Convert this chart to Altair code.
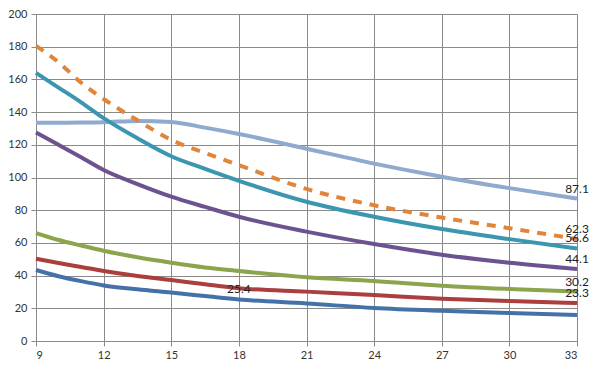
import altair as alt
import pandas as pd

x_vals = [9, 10, 11, 12, 13.5, 15, 16.5, 18, 21, 24, 27, 30, 33]

light_blue = [133.5, 133.5, 133.6, 133.8, 134.6, 134.0, 130.5, 126.6, 117.6, 108.5, 100.5, 93.5, 87.1]
orange = [180.5, 170.5, 158.0, 148.0, 135.0, 123.0, 115.0, 107.6, 93.0, 83.0, 75.5, 69.0, 62.3]
teal = [164.0, 155.0, 146.0, 136.3, 124.0, 113.0, 105.3, 98.0, 85.2, 76.0, 68.5, 62.3, 56.6]
purple = [127.5, 120.0, 112.4, 104.6, 96.0, 88.3, 82.0, 76.0, 66.9, 59.3, 52.8, 47.9, 44.1]
green = [66.0, 61.8, 58.4, 55.2, 51.2, 47.9, 45.0, 42.8, 39.0, 36.7, 33.8, 31.8, 30.2]
red = [50.3, 47.7, 45.3, 42.8, 39.8, 37.3, 34.7, 32.3, 30.2, 28.1, 25.9, 24.4, 23.3]
blue = [43.4, 39.6, 36.6, 34.0, 31.6, 29.6, 27.5, 25.4, 23.0, 20.2, 18.5, 17.2, 15.9]

series_names = ["light_blue", "blue", "red", "green", "purple", "teal", "orange"]
series_values = [light_blue, blue, red, green, purple, teal, orange]
series_colors = ["#8FA9CF", "#4571A9", "#AA3F3D", "#8CA54C", "#6C5390", "#3B97B0", "#E1853A"]

label_series = ["light_blue", "orange", "teal", "purple", "green", "red", "blue"]
label_x = [33, 33, 33, 33, 33, 33, 18]
label_y = [87.1, 62.3, 56.6, 44.1, 30.2, 23.3, 25.4]
label_text = ["87.1", "62.3", "56.6", "44.1", "30.2", "23.3", "25.4"]

x_ticks = list(range(9, 34, 3))
y_ticks = list(range(0, 201, 20))

rows = []
for name, vals in zip(series_names, series_values):
    for i, (xv, yv) in enumerate(zip(x_vals, vals)):
        rows.append({"series": name, "x": xv, "y": yv, "order": i})
df = pd.DataFrame(rows)

labels_df = pd.DataFrame({"series": label_series, "x": label_x, "y": label_y, "text": label_text})

FONT = "Lato"
GRID = "#8a8a8a"

xscale = alt.Scale(domain=[9, 33], nice=False, zero=False)
yscale = alt.Scale(domain=[0, 200], nice=False)
cscale = alt.Scale(domain=series_names, range=series_colors)

x_axis = alt.Axis(values=x_ticks, title=None, grid=True, gridColor=GRID, gridOpacity=1,
                  domainColor=GRID, tickColor=GRID, tickSize=5, labelFontSize=11, labelFont=FONT,
                  labelColor="#333333", labelPadding=3, labelOverlap=False)
y_axis = alt.Axis(values=y_ticks, title=None, grid=True, gridColor=GRID, gridOpacity=1,
                  domainColor=GRID, tickColor=GRID, tickSize=5, labelFontSize=11, labelFont=FONT,
                  labelColor="#333333", labelPadding=4, labelOverlap=False)

X = alt.X("x:Q", scale=xscale, axis=x_axis)
Y = alt.Y("y:Q", scale=yscale, axis=y_axis)
C = alt.Color("series:N", scale=cscale, legend=None)

base = alt.Chart(df)

solid = base.transform_filter(alt.datum.series != "orange").mark_line(
    strokeWidth=4, interpolate="monotone"
).encode(x=X, y=Y, color=C, detail="series:N", order="order:Q")

dashed = base.transform_filter(alt.datum.series == "orange").mark_line(
    strokeWidth=4, interpolate="monotone", strokeDash=[9, 8], strokeCap="butt"
).encode(x=X, y=Y, color=C, order="order:Q")

text = alt.Chart(labels_df).mark_text(
    font=FONT, fontSize=12, color="#222222", dy=-10, baseline="middle", align="center"
).encode(x=X, y=Y, text="text:N")

chart = alt.layer(solid, dashed, text).properties(
    width=541, height=327,
    autosize=alt.AutoSizeParams(type="none"),
    padding={"left": 28, "top": 6, "right": 16, "bottom": 18},
).configure_view(stroke=None).configure(background="white")

chart.save("out.html", embed_options={"renderer": "svg", "actions": False})
